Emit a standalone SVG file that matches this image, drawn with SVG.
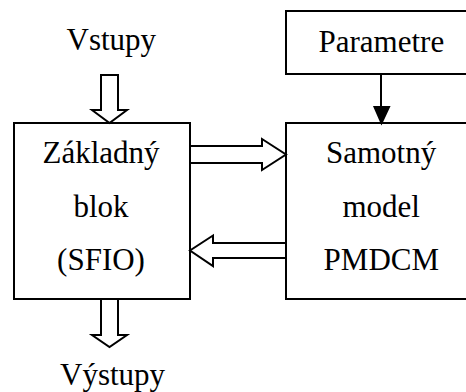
<svg xmlns="http://www.w3.org/2000/svg" width="466" height="392" viewBox="0 0 466 392">
<rect width="466" height="392" fill="#fff"/>
<g id="vstupy"><text x="66.5" y="50" style="font-family:'Times New Roman','Liberation Serif',serif;font-size:31px">Vstupy</text></g>
<g id="vystupy"><text x="60" y="385" style="font-family:'Times New Roman','Liberation Serif',serif;font-size:31px">Výstupy</text></g>
<g id="parametre">
<rect x="286" y="11" width="190" height="63" fill="#fff" stroke="#000" stroke-width="2"/>
<text x="318.5" y="52" style="font-family:'Times New Roman','Liberation Serif',serif;font-size:31px">Parametre</text>
</g>
<g id="zakladny">
<rect x="14" y="123" width="176" height="176" fill="#fff" stroke="#000" stroke-width="2"/>
<text x="42.5" y="163" style="font-family:'Times New Roman','Liberation Serif',serif;font-size:31px">Základný</text>
<text x="73.4" y="217" style="font-family:'Times New Roman','Liberation Serif',serif;font-size:31px">blok</text>
<text x="57.1" y="270" style="font-family:'Times New Roman','Liberation Serif',serif;font-size:31px">(SFIO)</text>
</g>
<g id="samotny">
<rect x="286" y="123" width="190" height="176" fill="#fff" stroke="#000" stroke-width="2"/>
<text x="326" y="163" style="font-family:'Times New Roman','Liberation Serif',serif;font-size:31px">Samotný</text>
<text x="342.5" y="217" style="font-family:'Times New Roman','Liberation Serif',serif;font-size:31px">model</text>
<text x="323.6" y="270" style="font-family:'Times New Roman','Liberation Serif',serif;font-size:31px">PMDCM</text>
</g>
<g id="connectors" fill="#fff" stroke="#000" stroke-width="2">
<path d="M101,75 L118,75 L118,110 L127,110 L109.5,123 L92,110 L101,110 Z"/>
<path d="M101,299 L118,299 L118,335 L127,335 L109.5,347 L92,335 L101,335 Z"/>
<path d="M190,146 L262,146 L262,139 L286,154.5 L262,170 L262,163 L190,163 Z"/>
<path d="M286,243 L213,243 L213,235.5 L190,250.5 L213,266 L213,258 L286,258 Z"/>
<path d="M381,74 L381,107 M374.5,107 L389,107 L381.5,123 Z" fill="#000"/>
</g>
</svg>
